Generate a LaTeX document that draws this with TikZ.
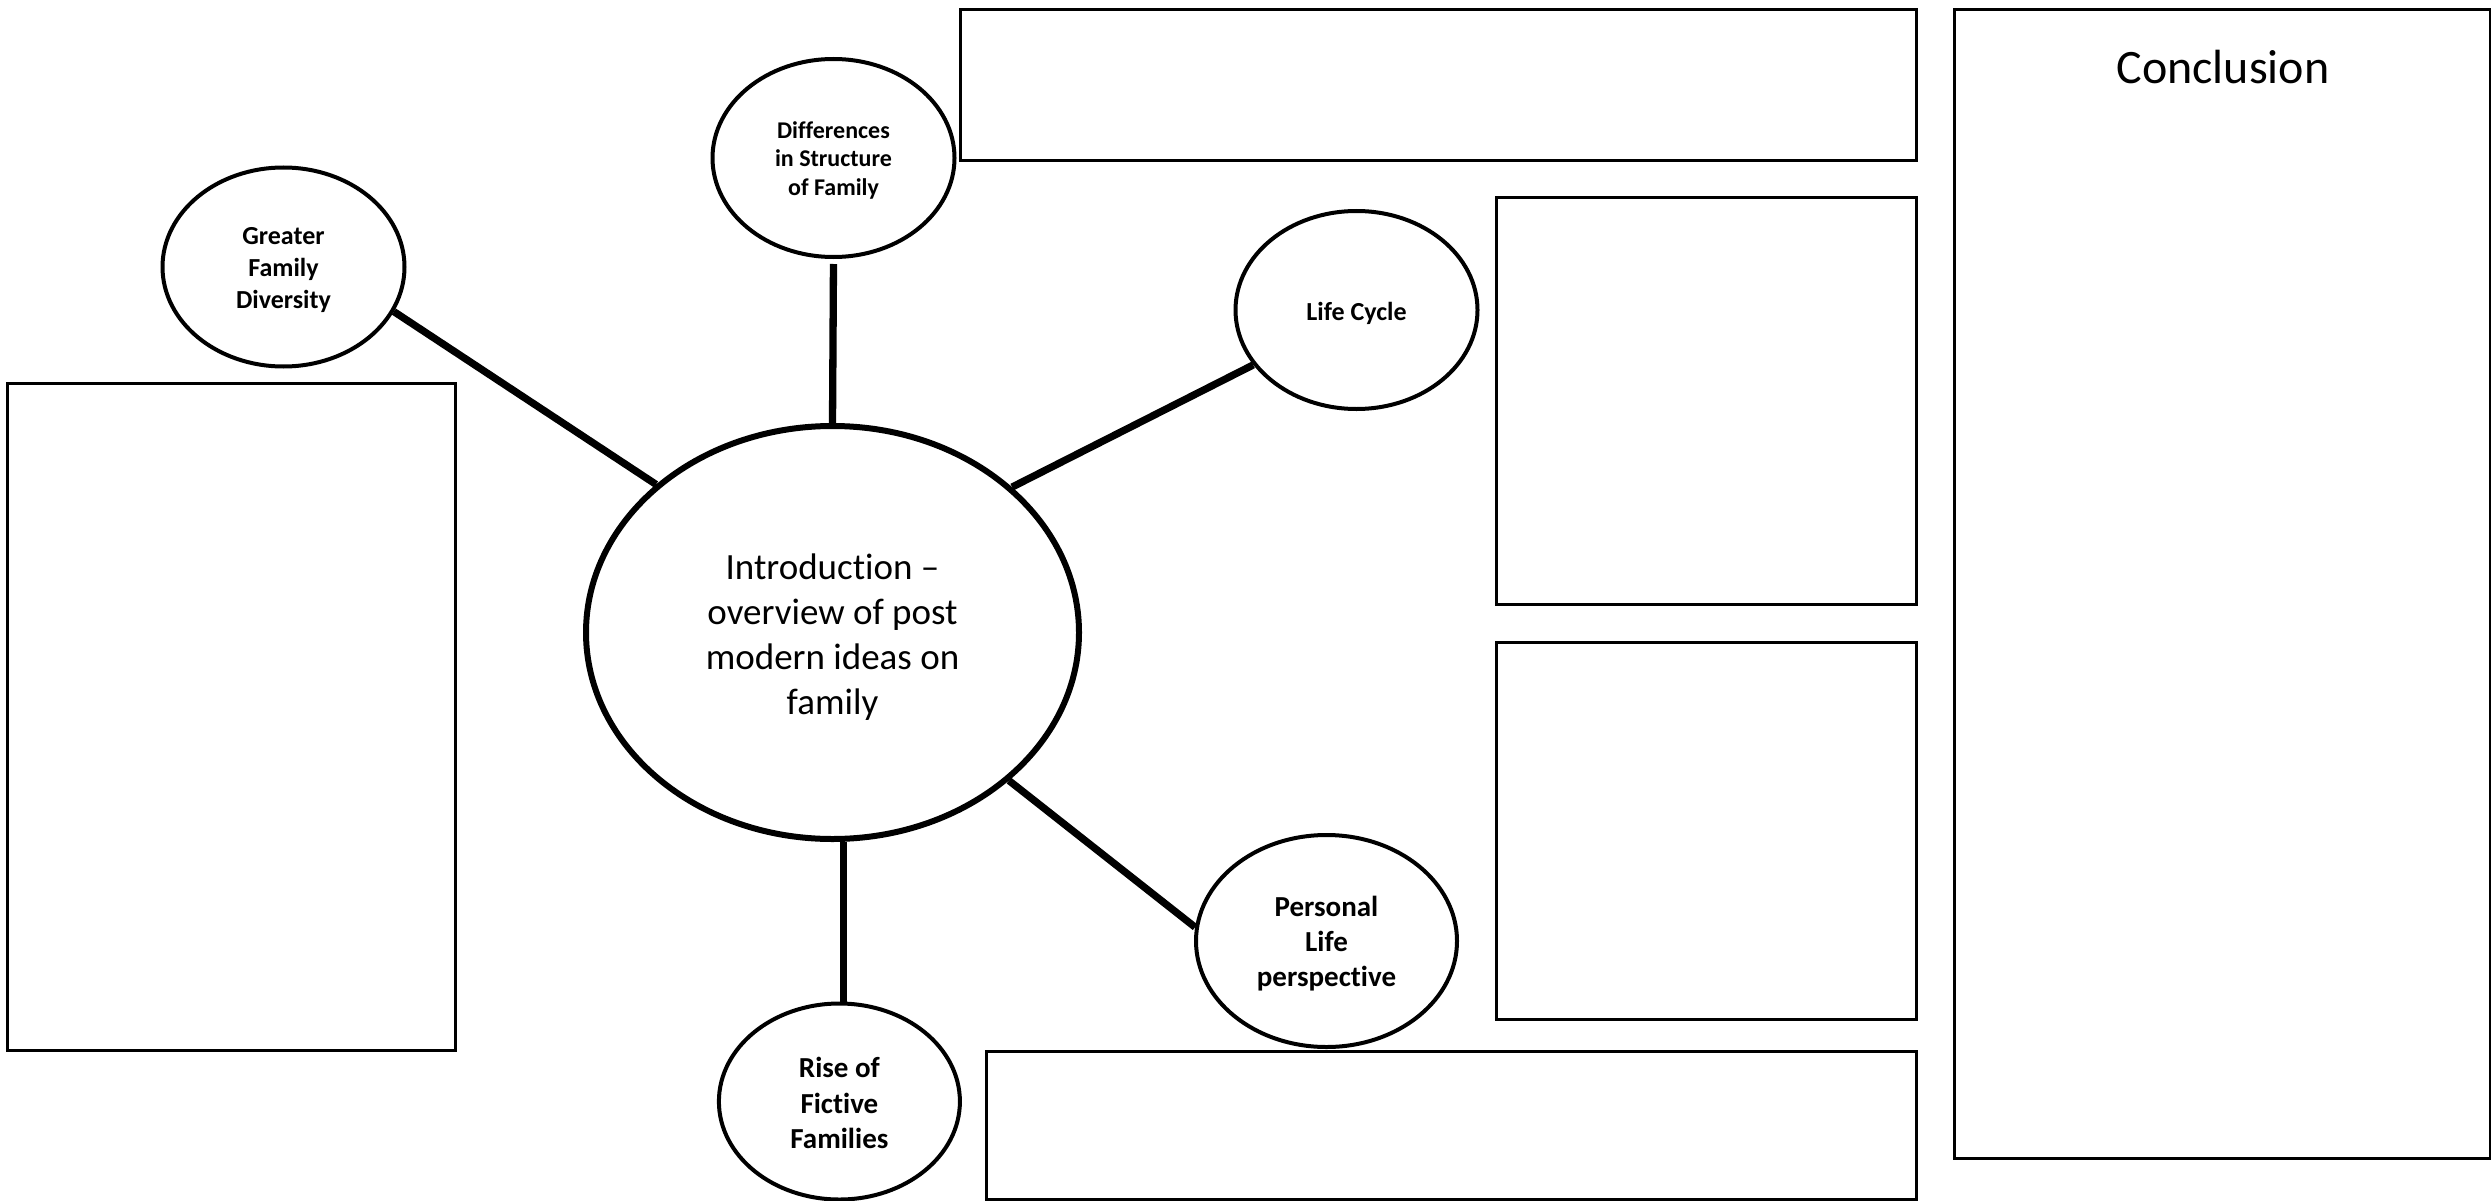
\documentclass[tikz,border=0pt]{standalone}
\usepackage{fontspec}
\setmainfont{Carlito}[Ligatures=CommonOff]
\usetikzlibrary{shapes.geometric}
\newcommand\lowtext[2]{\raisebox{-#1}[\height][\depth]{\begin{tabular}{@{}c@{}}#2\end{tabular}}}
\begin{document}
\begin{tikzpicture}[x=1pt,y=-1pt,
  bub/.style={draw, ellipse, line width=4pt, inner sep=0pt},
  hub/.style={draw, ellipse, line width=6pt, inner sep=0pt},
  box/.style={draw, line width=3pt, inner sep=0pt},
  link/.style={line width=7.3pt}]
\useasboundingbox (0,0) rectangle (2491,1201);
% boxes
\node[box, minimum width=956pt, minimum height=151pt] (top) at (1438,85.5) {};
\node[box, minimum width=536pt, minimum height=1148pt] (concl) at (2222,584) {};
\node[box, minimum width=419.5pt, minimum height=406pt] (rtop) at (1706.25,401) {};
\node[box, minimum width=419.5pt, minimum height=377pt] (rmid) at (1706.25,830.5) {};
\node[box, minimum width=930pt, minimum height=148pt] (bot) at (1451,1125) {};
\node[box, minimum width=448pt, minimum height=667pt] (left) at (231,716.5) {};
\node[anchor=base, font=\fontsize{48}{58}\selectfont] (ctitle) at (2223,84) {Conclusion};
% ellipses
\node[hub, minimum width=493pt, minimum height=413pt, font=\fontsize{37}{45}\selectfont] (c) at (832.5,632.5)
  {\lowtext{5pt}{Introduction –\\overview of post\\modern ideas on\\family}};
\node[bub, minimum width=242pt, minimum height=198pt, font=\fontsize{24}{28.5}\selectfont\bfseries] (d) at (833.5,158)
  {\lowtext{3pt}{Differences\\in Structure\\of Family}};
\node[bub, minimum width=242pt, minimum height=199pt, font=\fontsize{26}{31.7}\selectfont\bfseries] (g) at (283.5,267)
  {\lowtext{3pt}{Greater\\Family\\Diversity}};
\node[bub, minimum width=242pt, minimum height=198pt, font=\fontsize{26}{31}\selectfont\bfseries] (l) at (1356.5,310)
  {\lowtext{4.5pt}{Life Cycle}};
\node[bub, minimum width=261pt, minimum height=212pt, font=\fontsize{29}{35}\selectfont\bfseries] (p) at (1326.5,941)
  {\lowtext{3.5pt}{Personal\\Life\\perspective}};
\node[bub, minimum width=241pt, minimum height=196pt, font=\fontsize{29}{35.5}\selectfont\bfseries] (r) at (839.4,1101.5)
  {\lowtext{4.5pt}{Rise of\\Fictive\\Families}};
% connectors
\draw[link] (g.-22) -- (c.140);
\draw[link, shorten <=5pt] (d.south) -- (c.north);
\draw[link] (c.39.5) -- (l.208.5);
\draw[link] (c.-40) -- (p.174.3);
\draw[link] (c.-87) -- (c.-87 |- r.north);
\end{tikzpicture}
\end{document}
